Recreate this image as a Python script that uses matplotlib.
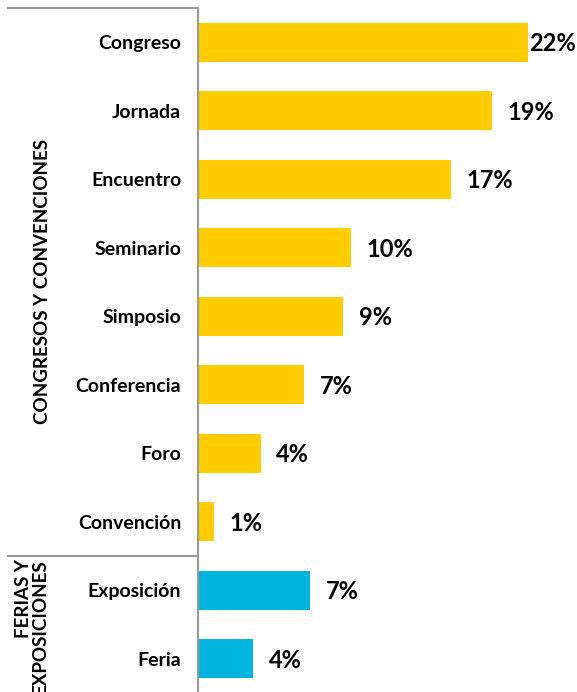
import matplotlib.pyplot as plt

categories = ['Congreso', 'Jornada', 'Encuentro', 'Seminario', 'Simposio',
              'Conferencia', 'Foro', 'Convención', 'Exposición', 'Feria']
values = [22.0, 19.6, 16.9, 10.2, 9.7, 7.1, 4.2, 1.1, 7.5, 3.7]
labels = ['22%', '19%', '17%', '10%', '9%', '7%', '4%', '1%', '7%', '4%']
groups = ['CONGRESOS Y CONVENCIONES'] * 8 + ['FERIAS Y\nEXPOSICIONES'] * 2

yellow = '#FFCC00'
cyan = '#00B4E0'
line_col = '#9a9a9a'

plt.rcParams['font.family'] = ['Lato', 'DejaVu Sans']

fig = plt.figure(figsize=(5.77, 6.92), dpi=100, facecolor='white')
ax = fig.add_axes([198 / 577, -1 / 692, 379 / 577, 685 / 692])

colors = [yellow if g.startswith('CONGRESOS') else cyan for g in groups]
pos = list(range(len(categories)))
ax.barh(pos, values, height=0.57, color=colors)
ax.set_ylim(len(categories) - 0.5, -0.5)
ax.set_xlim(0, 25.27)

ax.set_yticks(pos)
ax.set_yticklabels(categories, fontsize=14, fontweight='bold')
ax.tick_params(axis='y', length=0, pad=12)
ax.set_xticks([])
for s in ['top', 'right', 'bottom']:
    ax.spines[s].set_visible(False)
ax.spines['left'].set_color(line_col)
ax.spines['left'].set_linewidth(1.5)

vmax = max(values)
for p, v, lab in zip(pos, values, labels):
    off = 1 if v == vmax else 11
    ax.annotate(lab, (v, p), xytext=(off, -1), textcoords='offset points',
                ha='left', va='center', fontsize=17, fontweight='bold')

# group separators and group titles in the left margin
n1 = groups.count('CONGRESOS Y CONVENCIONES')
trans = ax.get_yaxis_transform()
for yv in [-0.5, n1 - 0.5]:
    ax.plot([-190 / 379, 0], [yv, yv], color=line_col, lw=1.5,
            transform=trans, clip_on=False)
ax.text(-155 / 379, (n1 - 1) / 2, 'CONGRESOS Y CONVENCIONES', transform=trans,
        rotation=90, ha='center', va='center', fontsize=13.5, fontweight='bold')
ax.text(-166 / 379, n1 - 0.45, 'FERIAS Y\nEXPOSICIONES',
        transform=trans, rotation=90, ha='center', va='top', fontsize=13.5,
        fontweight='bold', linespacing=0.95, multialignment='right')

plt.savefig('out.png', dpi=100, facecolor='white')
